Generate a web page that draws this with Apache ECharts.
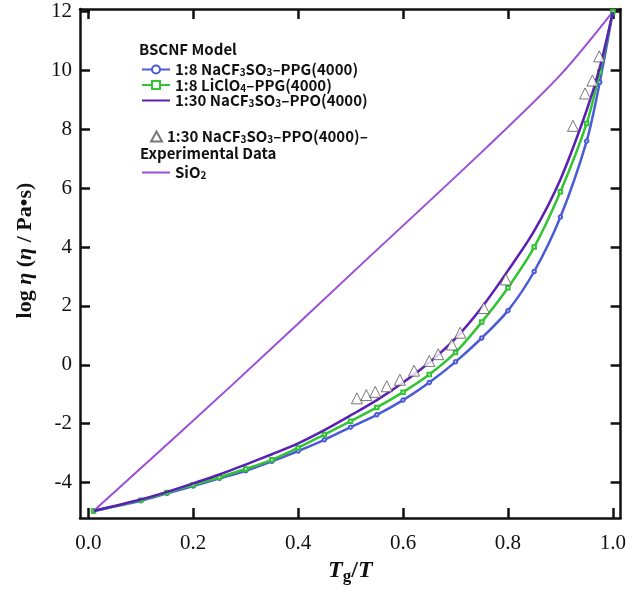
<!DOCTYPE html>
<html>
<head>
<meta charset="utf-8">
<script src="https://cdn.jsdelivr.net/npm/echarts@6/dist/echarts.min.js"></script>
<style>html,body{margin:0;padding:0;background:#fff;}#c{width:629px;height:590px;}</style>
</head>
<body>
<div id="c"></div>
<script>
// Tg/T sample positions of the BSCNF model curves
const tgT = [0.01, 0.1, 0.15, 0.2, 0.25, 0.3, 0.35, 0.4, 0.45, 0.5, 0.55, 0.6, 0.65, 0.7, 0.75, 0.8, 0.85, 0.9, 0.95, 0.975, 1.0];
// log eta values
const naPPG = [-4.97, -4.62, -4.37, -4.12, -3.86, -3.6, -3.28, -2.93, -2.55, -2.12, -1.7, -1.2, -0.6, 0.1, 0.91, 1.84, 3.17, 5.02, 7.6, 9.6, 12.0];
const liPPG = [-4.97, -4.60, -4.34, -4.08, -3.82, -3.54, -3.23, -2.82, -2.37, -1.92, -1.45, -0.93, -0.33, 0.42, 1.45, 2.62, 4.0, 5.88, 8.2, 9.95, 12.0];
const naPPO = [-4.97, -4.58, -4.32, -4.03, -3.73, -3.39, -3.04, -2.67, -2.22, -1.72, -1.2, -0.6, 0.08, 0.9, 1.95, 3.2, 4.55, 6.3, 8.65, 10.1, 12.0];
// SiO2 curve
const sio2X = [0.01, 0.277, 0.518, 0.759, 0.9, 1.0];
const sio2Y = [-4.97, -0.64, 3.37, 7.38, 9.85, 12.0];
// Experimental data, 1:30 NaCF3SO3-PPO(4000)
const expX = [0.512, 0.530, 0.547, 0.569, 0.594, 0.621, 0.650, 0.667, 0.693, 0.709, 0.754, 0.796, 0.924, 0.947, 0.961, 0.974];
const expY = [-1.14, -1.03, -0.92, -0.73, -0.51, -0.2, 0.13, 0.36, 0.69, 1.09, 1.93, 2.9, 8.12, 9.22, 9.66, 10.48];
// Tick labels
const xTicks = [0, 0.2, 0.4, 0.6, 0.8, 1.0];
const yTicks = [-4, -2, 0, 2, 4, 6, 8, 10, 12];

const zip = (xs, ys) => xs.map((x, i) => [x, ys[i]]);

const N1 = '1:8 NaCF3SO3-PPG(4000)';
const N2 = '1:8 LiClO4-PPG(4000)';
const N3 = '1:30 NaCF3SO3-PPO(4000)';
const N4 = '1:30 NaCF3SO3-PPO(4000)-Exp';
const N5 = 'SiO2';
const richNames = {};
richNames[N1] = '{n|1:8 NaCF}{s|3}{n|SO}{s|3}{n|\u2013PPG(4000)}';
richNames[N2] = '{n|1:8 LiClO}{s|4}{n|\u2013PPG(4000)}';
richNames[N3] = '{n|1:30 NaCF}{s|3}{n|SO}{s|3}{n|\u2013PPO(4000)}';
richNames[N4] = '{n|1:30 NaCF}{s|3}{n|SO}{s|3}{n|\u2013PPO(4000)\u2013}';
richNames[N5] = '{n|SiO}{s|2}';

const FONT = "'Noto Sans CJK JP', 'Noto Sans', sans-serif";
const SERIF = "'Liberation Serif', 'DejaVu Serif', serif";
const FS = 15;
const legendText = {
  fontFamily: FONT, fontWeight: 'bold', fontSize: FS, color: '#111',
  rich: {
    n: {fontFamily: FONT, fontWeight: 'bold', fontSize: FS, color: '#111', lineHeight: 16},
    s: {fontFamily: FONT, fontWeight: 'bold', fontSize: 10, color: '#111', lineHeight: 8, verticalAlign: 'bottom'}
  }
};

const C_BLUE = '#4b5bd8', C_GREEN = '#33c433', C_PURPLE = '#5a1fb4', C_SIO2 = '#9a4ed8';

const axisCommon = {
  type: 'value',
  splitLine: {show: false},
  axisLine: {show: true, onZero: false, lineStyle: {color: '#111', width: 2.5}},
  axisTick: {show: true, inside: true, length: 10, lineStyle: {color: '#111', width: 2.5}},
};

const chart = echarts.init(document.getElementById('c'), null, {renderer: 'canvas'});
chart.setOption({
  animation: false,
  backgroundColor: '#fff',
  grid: {left: 80, right: 8, top: 9, bottom: 63, containLabel: false},
  title: {text: 'BSCNF Model', left: 139, top: 42, padding: 0, textStyle: {fontFamily: FONT, fontWeight: 'bold', fontSize: FS, color: '#111'}},
  graphic: [{type: 'text', left: 140, top: 146, style: {text: 'Experimental Data', font: "bold " + FS + "px " + FONT, fill: '#111'}}],
  legend: [
    {orient: 'vertical', left: 141, top: 62, itemWidth: 28, itemHeight: 10, itemGap: 0, padding: 0,
     data: [N1, N2, N3], formatter: n => richNames[n], textStyle: legendText},
    {orient: 'vertical', left: 150, top: 129, itemWidth: 11, itemHeight: 10, itemGap: 0, padding: 0,
     data: [N4], formatter: n => richNames[n], textStyle: legendText},
    {orient: 'vertical', left: 141, top: 165, itemWidth: 28, itemHeight: 10, itemGap: 0, padding: 0,
     data: [N5], formatter: n => richNames[n], textStyle: legendText}
  ],
  xAxis: [
    Object.assign({}, axisCommon, {
      position: 'bottom', min: -0.0158, max: 1.0147,
      axisTick: Object.assign({}, axisCommon.axisTick, {customValues: xTicks}),
      axisLabel: {customValues: xTicks, formatter: v => v.toFixed(1), margin: 15, fontFamily: SERIF, fontSize: 21, color: '#111'},
      name: '{i|T}{g|g}{b|/}{i|T}', nameLocation: 'middle', nameGap: 27,
      nameTextStyle: {rich: {
        i: {fontFamily: SERIF, fontStyle: 'italic', fontWeight: 'bold', fontSize: 24, color: '#111', lineHeight: 28},
        g: {fontFamily: SERIF, fontWeight: 'bold', fontSize: 17, color: '#111', lineHeight: 16, verticalAlign: 'bottom'},
        b: {fontFamily: SERIF, fontWeight: 'bold', fontSize: 24, color: '#111', lineHeight: 28}
      }}
    }),
    Object.assign({}, axisCommon, {
      position: 'top', min: -0.0158, max: 1.0147,
      axisTick: Object.assign({}, axisCommon.axisTick, {customValues: xTicks}),
      axisLabel: {show: false}
    })
  ],
  yAxis: [
    Object.assign({}, axisCommon, {
      position: 'left', min: -5.21, max: 12.09,
      axisTick: Object.assign({}, axisCommon.axisTick, {customValues: yTicks}),
      axisLabel: {customValues: yTicks, margin: 8, fontFamily: SERIF, fontSize: 21, color: '#111'},
      name: '{b|log }{i|\u03b7}{b| (}{i|\u03b7}{b| / Pa\u2022s)}', nameLocation: 'middle', nameGap: 44, nameRotate: 90,
      nameTextStyle: {padding: [0, 0, 0, 26], rich: {
        i: {fontFamily: SERIF, fontStyle: 'italic', fontWeight: 'bold', fontSize: 22, color: '#111'},
        b: {fontFamily: SERIF, fontWeight: 'bold', fontSize: 22, color: '#111'}
      }}
    }),
    Object.assign({}, axisCommon, {
      position: 'right', min: -5.21, max: 12.09,
      axisTick: Object.assign({}, axisCommon.axisTick, {customValues: yTicks}),
      axisLabel: {show: false}
    })
  ],
  series: [
    {name: N5, type: 'line', data: zip(sio2X, sio2Y), smooth: 0.3, symbol: 'line', showSymbol: false,
     lineStyle: {color: C_SIO2, width: 2}, itemStyle: {color: C_SIO2}, z: 2},
    {name: N1, type: 'line', data: zip(tgT, naPPG), smooth: 0.3, symbol: 'emptyCircle', symbolSize: 3.5,
     lineStyle: {color: C_BLUE, width: 2.5}, itemStyle: {color: C_BLUE}, z: 3},
    {name: N2, type: 'line', data: zip(tgT, liPPG), smooth: 0.3, symbol: 'emptyRect', symbolSize: 3.5,
     lineStyle: {color: C_GREEN, width: 2.5}, itemStyle: {color: C_GREEN}, z: 4},
    {name: N3, type: 'line', data: zip(tgT, naPPO), smooth: 0.3, symbol: 'line', showSymbol: false,
     lineStyle: {color: C_PURPLE, width: 2.5}, itemStyle: {color: C_PURPLE}, z: 5},
    {name: N4, type: 'scatter', data: zip(expX, expY), symbol: 'triangle', symbolSize: 11,
     itemStyle: {color: '#fff', borderColor: '#555', borderWidth: 1}, z: 6}
  ]
});
</script>
</body>
</html>
